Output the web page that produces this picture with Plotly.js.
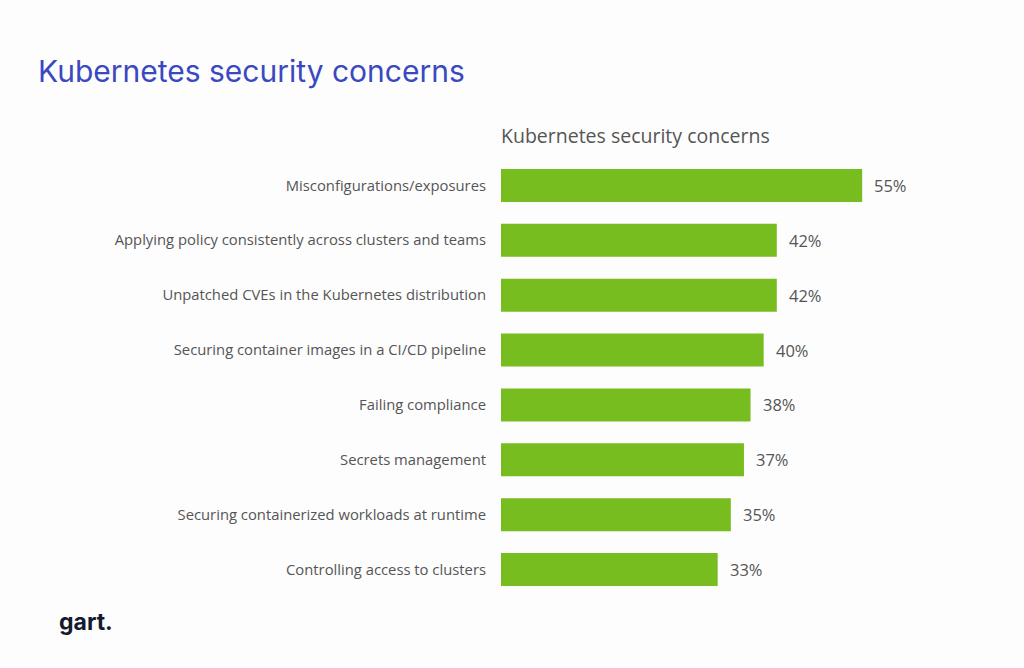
<!DOCTYPE html>
<html>
<head>
<meta charset="utf-8">
<script src="https://cdn.plot.ly/plotly-3.0.1.min.js"></script>
<style>
  html, body { margin: 0; padding: 0; background: #fdfdfd; }
  #graph { width: 1024px; height: 668px; }
</style>
</head>
<body>
<div id="graph"></div>
<script>
// concerns, top to bottom
const concerns = [
  'Misconfigurations/exposures',
  'Applying policy consistently across clusters and teams',
  'Unpatched CVEs in the Kubernetes distribution',
  'Securing container images in a CI/CD pipeline',
  'Failing compliance',
  'Secrets management',
  'Securing containerized workloads at runtime',
  'Controlling access to clusters'
];
const shares = [55, 42, 42, 40, 38, 37, 35, 33];

const green = '#78bd20';
const grey = '#555555';
const left = -501 / 394; // paper x of the page's left edge

// value labels sit to the right of each bar
const valueLabels = shares.map((v, i) => ({
  x: v, y: concerns[i], xref: 'x', yref: 'y',
  text: v + '%', showarrow: false,
  xanchor: 'left', yanchor: 'middle', xshift: 10,
  font: { family: 'Open Sans, sans-serif', size: 16.5, color: grey }
}));

Plotly.newPlot('graph', [{
  type: 'bar',
  orientation: 'h',
  y: concerns,
  x: shares,
  width: 0.6,
  marker: { color: green, line: { width: 0 } },
  hoverinfo: 'skip'
}], {
  width: 1024,
  height: 668,
  paper_bgcolor: '#fdfdfd',
  plot_bgcolor: '#fdfdfd',
  margin: { l: 501, r: 129, t: 157.5, b: 70.5 },
  showlegend: false,
  xaxis: {
    range: [0, 60],
    visible: false,
    fixedrange: true
  },
  yaxis: {
    autorange: 'reversed',
    showgrid: false,
    zeroline: false,
    showline: false,
    ticks: '',
    ticklabelstandoff: 14,
    tickfont: { family: 'Open Sans, sans-serif', size: 14.8, color: grey }
  },
  annotations: valueLabels.concat([
    {
      text: 'Kubernetes security concerns',
      xref: 'paper', yref: 'paper', x: 0, y: 1, yshift: 23,
      xanchor: 'left', yanchor: 'middle', showarrow: false, xshift: -2,
      font: { family: 'Open Sans, sans-serif', size: 19.5, color: grey }
    },
    {
      text: 'Kubernetes security concerns',
      xref: 'paper', yref: 'paper', x: left, y: 1, yshift: 87,
      xanchor: 'left', yanchor: 'middle', showarrow: false, xshift: 36,
      font: { family: 'Inter, sans-serif', size: 30, color: '#3a49c0' }
    },
    {
      text: '<b>gart.</b>',
      xref: 'paper', yref: 'paper', x: left, y: 0, yshift: -25,
      xanchor: 'left', yanchor: 'middle', showarrow: false, xshift: 57,
      font: { family: 'Inter, sans-serif', size: 23, color: '#141a2e' }
    }
  ])
}, { displayModeBar: false, staticPlot: true });
</script>
</body>
</html>
